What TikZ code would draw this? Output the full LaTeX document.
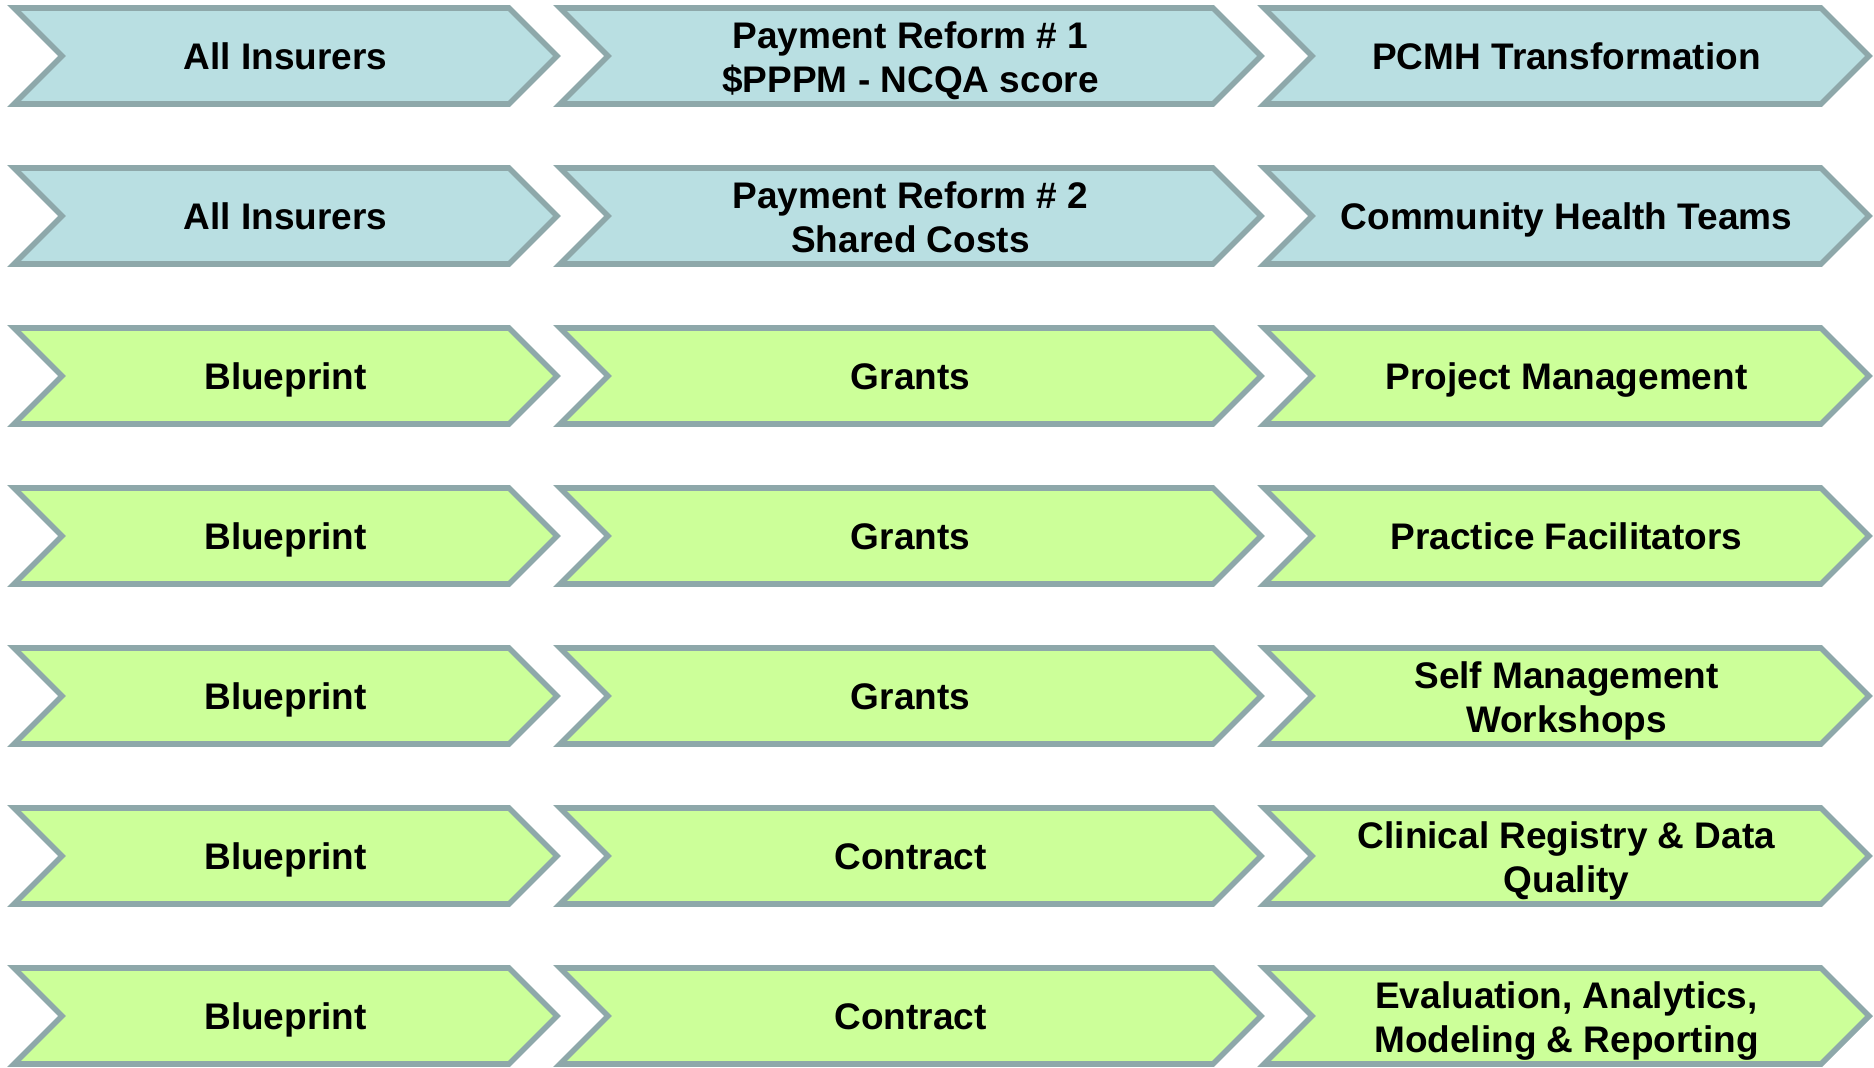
\documentclass[tikz,border=0pt]{standalone}
\usepackage{fontspec}
\setmainfont{Liberation Sans}
\definecolor{chevblue}{HTML}{B9DFE2}
\definecolor{chevgreen}{HTML}{CCFF99}
\definecolor{chevedge}{HTML}{8EA8AA}
\tikzset{
  chevbox/.style={draw=chevedge, line width=2.8pt, line join=miter},
  bluebox/.style={chevbox, fill=chevblue},
  greenbox/.style={chevbox, fill=chevgreen},
  % struts on the first and last line keep every label's baselines
  % at the same place whatever letters it contains
  chevtext/.style={align=center, text=black,
    font=\fontsize{18.5pt}{22pt}\selectfont\bfseries, inner sep=0pt,
    yshift=-0.6pt,
    execute at begin node={\rule{0pt}{17pt}},
    execute at end node={\rule[-4.7pt]{0pt}{4.7pt}}},
  twoline/.style={yshift=-2.4pt},
}
% [#1] extra label options, #2 node name, #3 left x, #4 tip x,
% #5 centre y, #6 box style, #7 label
\newcommand\chevronbox[7][]{%
  \path[#6] (#3,#5-48) -- (#4-48,#5-48) -- (#4,#5) -- (#4-48,#5+48)
    -- (#3,#5+48) -- (#3+48,#5) -- cycle;
  \node[chevtext,#1] (#2) at ({(#3+#4)/2},#5) {#7};
}
\begin{document}
\begin{tikzpicture}[x=0.5pt, y=-0.5pt]
\useasboundingbox (0,0) rectangle (1874,1067);

% row 1
\chevronbox{aA}{14}{557}{56}{bluebox}{All Insurers}
\chevronbox[twoline]{aB}{560}{1261}{56}{bluebox}{Payment Reform \# 1\\\$PPPM - NCQA score}
\chevronbox{aC}{1264}{1869}{56}{bluebox}{PCMH Transformation}
% row 2
\chevronbox{bA}{14}{557}{216}{bluebox}{All Insurers}
\chevronbox[twoline]{bB}{560}{1261}{216}{bluebox}{Payment Reform \# 2\\Shared Costs}
\chevronbox{bC}{1264}{1869}{216}{bluebox}{Community Health Teams}
% row 3
\chevronbox{cA}{14}{557}{376}{greenbox}{Blueprint}
\chevronbox{cB}{560}{1261}{376}{greenbox}{Grants}
\chevronbox{cC}{1264}{1869}{376}{greenbox}{Project Management}
% row 4
\chevronbox{dA}{14}{557}{536}{greenbox}{Blueprint}
\chevronbox{dB}{560}{1261}{536}{greenbox}{Grants}
\chevronbox{dC}{1264}{1869}{536}{greenbox}{Practice Facilitators}
% row 5
\chevronbox{eA}{14}{557}{696}{greenbox}{Blueprint}
\chevronbox{eB}{560}{1261}{696}{greenbox}{Grants}
\chevronbox[twoline]{eC}{1264}{1869}{696}{greenbox}{Self Management\\Workshops}
% row 6
\chevronbox{fA}{14}{557}{856}{greenbox}{Blueprint}
\chevronbox{fB}{560}{1261}{856}{greenbox}{Contract}
\chevronbox[twoline]{fC}{1264}{1869}{856}{greenbox}{Clinical Registry \& Data\\Quality}
% row 7
\chevronbox{gA}{14}{557}{1016}{greenbox}{Blueprint}
\chevronbox{gB}{560}{1261}{1016}{greenbox}{Contract}
\chevronbox[twoline]{gC}{1264}{1869}{1016}{greenbox}{Evaluation, Analytics,\\Modeling \& Reporting}
\end{tikzpicture}
\end{document}
